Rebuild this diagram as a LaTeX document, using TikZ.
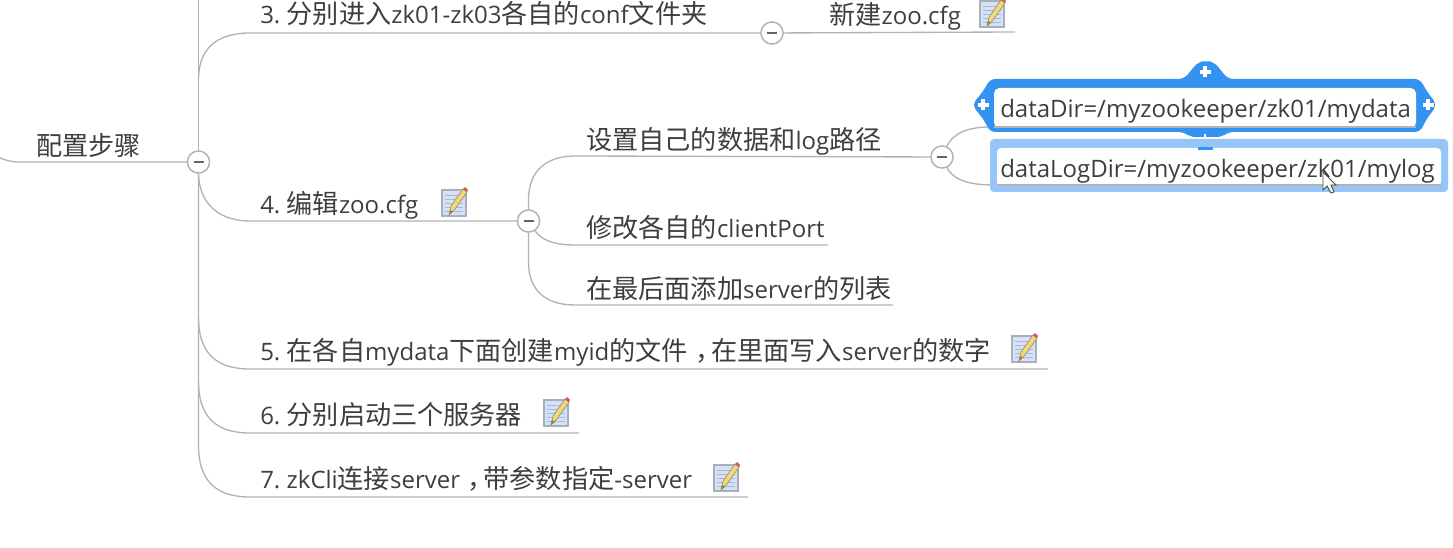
\documentclass[tikz,border=0pt]{standalone}
\usepackage{fontspec}
\setmainfont{Open Sans}
\newfontfamily\cjk[Scale=1.09]{Noto Sans CJK SC}
\newcommand{\zh}[1]{{\cjk #1}}
\newcommand{\zhcomma}{{\cjk\hspace{0.3em}，\hspace{-0.4em}}}
\newcommand{\numsp}{\hspace{-1.5pt} }
\definecolor{linegray}{RGB}{178,178,178}
\definecolor{txt}{RGB}{62,62,62}
\definecolor{selblue}{RGB}{52,146,240}
\definecolor{hovblue}{RGB}{150,198,248}
\definecolor{notefill}{RGB}{214,226,244}
\definecolor{noteline}{RGB}{165,185,220}
\definecolor{noteedge}{RGB}{165,175,190}
\definecolor{pencil}{RGB}{238,214,130}
\definecolor{pencildark}{RGB}{150,130,80}
\definecolor{pencilend}{RGB}{205,95,85}
\usetikzlibrary{calc}
\tikzset{
  x=0.75pt,y=-0.75pt,
  lbl/.style={anchor=base west,inner sep=0pt,text=txt,font=\fontsize{18}{18}\selectfont},
  branch/.style={draw=linegray,line width=1pt},
  toggle/.style={circle,draw=linegray,fill=white,line width=1pt,minimum size=16.5pt,inner sep=0pt},
  pics/noteicon/.style={code={
    \fill[notefill,draw=noteedge,line width=.8pt] (-12,-13) rectangle (12,13);
    \foreach \k in {-8,-4,...,10} \draw[noteline,line width=.5pt] (-9,\k) -- (9,\k);
    \fill[pencil,draw=pencildark,line width=.4pt] (-5,12) -- (-3,3) -- (9,-14) -- (13,-11) -- (1,6) -- cycle;
    \fill[pencildark] (-5,12) -- (-4,7) -- (-1,9) -- cycle;
    \fill[pencilend] (9,-14) -- (11,-16) -- (14,-13) -- (13,-11) -- cycle;
  }}
}
\newcommand{\minus}[1]{\draw[txt!80,line width=1.1pt] ($(#1)+(-5,0)$) -- ($(#1)+(5,0)$);}
\begin{document}
\begin{tikzpicture}
\useasboundingbox (0,0) rectangle (1453,548);
% junction and free-end coordinates
\coordinate (rootL) at (0,158);
\coordinate (topV) at (198.5,0);
\coordinate (e3b) at (1015,32);
\coordinate (e42) at (828,245);
\coordinate (e43) at (893,305);
\coordinate (e5) at (1048,369);
\coordinate (e6) at (579,433);
\coordinate (e7) at (748,497);
\coordinate (sA) at (990,127);
\coordinate (sB) at (994,185);
\node[toggle] (t0) at (198.5,162) {};
\node[toggle] (t3) at (772,33) {};
\node[toggle] (t4) at (528.5,221) {};
\node[toggle] (t41) at (942,157) {};
% connectors
\draw[branch] (rootL) .. controls (8,161) and (12,162) .. (20,162) -- (t0);
\draw[branch] (topV) -- (t0);
\draw[branch] (t0) -- (198.5,445) .. controls (198.5,480) and (215,497) .. (250,497) -- (e7);
\draw[branch] (198.5,381) .. controls (198.5,416) and (215,433) .. (250,433) -- (e6);
\draw[branch] (198.5,317) .. controls (198.5,352) and (215,369) .. (250,369) -- (e5);
\draw[branch] (198.5,175) .. controls (200,205) and (220,221) .. (250,221) -- (t4);
\draw[branch] (198.5,80) .. controls (198.5,50) and (215,33) .. (250,33) -- (t3);
\draw[branch] (t3) -- (e3b);
\draw[branch] (t4) -- (528.5,200) .. controls (528.5,172) and (545,156) .. (575,156) -- (t41);
\draw[branch] (t4) .. controls (540,238) and (550,245) .. (575,245) -- (e42);
\draw[branch] (t4) -- (528.5,262) .. controls (528.5,290) and (545,305) .. (575,305) -- (e43);
\draw[branch] (t41) .. controls (952,135) and (965,127) .. (sA);
\draw[branch] (t41) .. controls (952,178) and (965,185) .. (sB);
\node[toggle] at (t0) {};
\node[toggle] at (t3) {};
\node[toggle] at (t4) {};
\node[toggle] at (t41) {};
\minus{t0} \minus{t3} \minus{t4} \minus{t41}
% labels
\node[lbl] (root) at (36,156) {\zh{配置步骤}};
\node[lbl] (n3) at (260,24) {3.\numsp\zh{分别进入}zk01-zk03\zh{各自的}conf\zh{文件夹}};
\node[lbl] (n3a) at (829,25) {\zh{新建}zoo.cfg};
\node[lbl] (n4) at (260,214) {4.\numsp\zh{编辑}zoo.cfg};
\node[lbl] (n41) at (586,150) {\zh{设置自己的数据和}log\zh{路径}};
\node[lbl] (n42) at (586,238) {\zh{修改各自的}clientPort};
\node[lbl] (n43) at (586,299) {\zh{在最后面添加}server\zh{的列表}};
\node[lbl] (n5) at (260,361) {5.\numsp\zh{在各自}mydata\zh{下面创建}myid\zh{的文件}\zhcomma\zh{在里面写入}server\zh{的数字}};
\node[lbl] (n6) at (260,425) {6.\numsp\zh{分别启动三个服务器}};
\node[lbl] (n7) at (260,489) {7.\numsp zkCli\zh{连接}server\zhcomma\zh{带参数指定}-server};
% note icons
\pic at (992,14) {noteicon};
\pic at (454,203) {noteicon};
\pic at (1024,349) {noteicon};
\pic at (556,413) {noteicon};
\pic at (726,478) {noteicon};
% hover frame
\fill[hovblue,rounded corners=3pt] (990,139) rectangle (1448,192);
\fill[white,rounded corners=3pt] (997,148) rectangle (1441,186);
\draw[linegray,line width=1pt] (997,185) -- (1441,185);
% selection frame with handles
\fill[selblue,rounded corners=4pt] (990,79) -- (1184,79) -- (1198,62) -- (1206,61) -- (1214,62) -- (1228,79) -- (1420,79) -- (1426,90) -- (1437,105) -- (1426,120) -- (1420,132) -- (1228,132) -- (1222,137) -- (1190,137) -- (1184,132) -- (990,132) -- (984,120) -- (972,105) -- (984,90) -- cycle;
\fill[white,rounded corners=4pt] (994,88) rectangle (1416,128);
\draw[linegray,line width=1pt] (994,127) -- (1416,127);
\fill[selblue] (1198,147) rectangle (1213,150);
\foreach \cx/\cy in {1205/72,983/105,1428/105}{
  \draw[white,line width=2.4pt] (\cx-5.5,\cy) -- (\cx+5.5,\cy) (\cx,\cy-5.5) -- (\cx,\cy+5.5);
}
\draw[white,line width=2pt] (1205,134) -- (1205,138);
\node[lbl] (sel1) at (1000,118) {dataDir=/myzookeeper/zk01/mydata};
\node[lbl] (sel2) at (1000,178) {dataLogDir=/myzookeeper/zk01/mylog};
% mouse pointer
\draw[black!70,fill=white,line width=.7pt] (1323,172) -- (1323,190) -- (1327,186) -- (1331,193) -- (1334,192) -- (1331,185) -- (1336,185) -- cycle;
\end{tikzpicture}
\end{document}
